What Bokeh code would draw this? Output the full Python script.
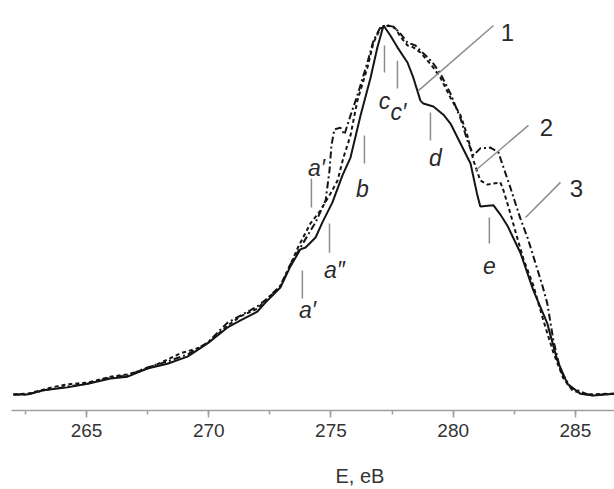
from bokeh.plotting import figure
from bokeh.models import ColumnDataSource, SingleIntervalTicker, Title
from bokeh.core.properties import value
from bokeh.embed import file_html
from bokeh.resources import INLINE

# ---- data (energy in eV, intensity in % of maximum) ----
energy_1 = [262.01, 262.59, 263.24, 264.22, 265.04, 265.98, 266.68, 267.49, 268.31, 269.13,
            269.95, 270.77, 271.30, 271.99, 272.40, 272.93, 273.34, 273.75, 273.96, 274.37,
            274.65, 275.06, 275.47, 275.80, 276.21, 276.62, 276.90, 277.15, 277.43, 277.72,
            278.13, 278.37, 278.66, 278.78, 279.19, 279.60, 279.89, 280.30, 280.71, 280.99,
            281.11, 281.65, 281.93, 282.22, 282.75, 283.28, 283.85, 284.26, 284.67, 285.20,
            285.74, 286.60]
intensity_1 = [0.3, 0.3, 1.4, 2.2, 3.2, 4.6, 5.1, 7.3, 8.6, 10.5,
               14.1, 18.4, 20.3, 22.7, 25.7, 29.2, 34.9, 39.5, 40.0, 42.7,
               46.8, 52.2, 59.5, 64.3, 75.7, 85.9, 94.1, 100.0, 97.3, 94.1,
               90.0, 85.9, 79.7, 78.9, 78.1, 75.9, 73.5, 68.1, 62.7, 54.1,
               51.1, 51.4, 48.9, 45.9, 38.6, 28.4, 19.5, 9.5, 3.2, 0.5,
               0.0, 0.5]

energy_2 = [262.01, 262.59, 263.24, 263.73, 264.22, 265.04, 265.98, 266.68, 267.49, 268.15,
            268.84, 269.66, 269.95, 270.77, 271.30, 271.99, 272.40, 272.93, 273.34, 273.67,
            274.16, 274.57, 274.98, 275.27, 275.51, 275.80, 276.08, 276.49, 276.74, 277.02,
            277.35, 277.64, 277.84, 278.13, 278.37, 278.66, 278.95, 279.19, 279.48, 279.89,
            280.30, 280.58, 280.83, 281.11, 281.40, 281.93, 282.06, 282.34, 282.63, 282.87,
            283.28, 283.69, 284.10, 284.51, 284.88, 285.41, 286.60]
intensity_2 = [0.3, 0.5, 1.6, 2.4, 3.0, 3.5, 5.1, 5.7, 7.3, 9.2,
               11.4, 13.0, 14.1, 18.9, 21.4, 23.5, 26.2, 29.5, 35.4, 40.3,
               46.5, 50.0, 54.6, 58.1, 64.3, 70.3, 79.7, 88.6, 95.4, 99.2,
               100.0, 99.2, 97.0, 94.6, 94.1, 92.7, 90.5, 88.6, 85.9, 80.5,
               75.7, 70.3, 63.5, 58.1, 57.0, 57.6, 55.4, 49.2, 42.4, 37.0,
               29.7, 20.3, 11.6, 4.6, 1.4, 0.3, 0.5]

energy_3 = [262.01, 262.59, 263.24, 264.22, 265.04, 265.98, 266.68, 267.49, 268.31, 269.13,
            269.95, 270.77, 271.30, 271.99, 272.40, 272.93, 273.34, 273.75, 274.37, 274.78,
            274.94, 275.02, 275.14, 275.39, 275.55, 275.80, 276.08, 276.49, 276.74, 277.02,
            277.23, 277.56, 277.84, 278.13, 278.46, 278.66, 278.95, 279.19, 279.48, 279.89,
            280.30, 280.58, 280.83, 281.11, 281.52, 281.85, 282.06, 282.34, 282.75, 283.04,
            283.36, 283.65, 283.85, 284.10, 284.39, 284.80, 285.61, 286.60]
intensity_3 = [0.3, 0.3, 1.4, 2.4, 3.2, 4.9, 5.4, 7.6, 9.2, 11.1,
               14.3, 19.7, 21.6, 24.1, 26.2, 29.7, 35.4, 40.0, 46.8, 52.7,
               60.8, 67.6, 71.9, 72.4, 70.5, 75.7, 81.1, 90.0, 95.9, 99.5,
               100.0, 99.7, 97.8, 95.4, 94.6, 93.2, 91.4, 89.7, 87.0, 81.6,
               74.9, 68.9, 64.9, 66.8, 67.0, 65.7, 61.6, 56.2, 47.8, 42.7,
               35.9, 29.7, 24.9, 14.9, 6.8, 2.2, 0.0, 0.5]

# feature markers: text, energy of marker line, marker line bottom/top, text position
feat_text = ["a\u2032", "a\u2033", "a\u2032", "b", "c", "c\u2032", "d", "e"]
feat_energy = [273.83, 274.94, 274.20, 276.37, 277.19, 277.72, 279.07, 281.48]
feat_low = [26.2, 38.6, 50.8, 62.7, 87.3, 83.0, 68.9, 41.1]
feat_high = [33.8, 46.5, 58.6, 70.3, 94.6, 90.5, 76.5, 48.1]
feat_text_x = [274.04, 275.14, 274.41, 276.29, 277.19, 277.76, 279.27, 281.48]
feat_text_y = [23.0, 33.8, 61.6, 55.9, 79.7, 76.5, 64.1, 35.1]

# curve numbers with leader lines
num_text = ["1", "2", "3"]
num_x = [282.22, 283.81, 285.04]
num_y = [98.1, 72.4, 55.9]
lead_x0 = [281.65, 283.08, 284.39]
lead_y0 = [100.0, 73.0, 57.6]
lead_x1 = [278.58, 280.91, 282.96]
lead_y1 = [82.4, 60.8, 48.1]

x_ticks_interval = 5
x_title = "E, eB"

# ---- figure ----
p = figure(width=614, height=489, x_range=(261.93, 286.60), y_range=(-4.05, 106.76),
           output_backend="svg", toolbar_location=None, y_axis_location=None,
           min_border_left=11, min_border_right=0, min_border_top=0, min_border_bottom=79)
p.grid.visible = False
p.outline_line_color = None
p.background_fill_color = "white"
p.border_fill_color = "white"

ax = p.xaxis[0]
ax.ticker = SingleIntervalTicker(interval=x_ticks_interval, num_minor_ticks=2)
ax.axis_line_color = "#a0a0a0"
ax.axis_line_width = 1.5
ax.major_tick_line_color = "#a0a0a0"
ax.major_tick_line_width = 1.5
ax.minor_tick_line_color = "#a0a0a0"
ax.minor_tick_line_width = 1.5
ax.major_tick_out = 7
ax.major_tick_in = 0
ax.minor_tick_out = 4
ax.minor_tick_in = 0
ax.major_label_text_font = "Liberation Sans"
ax.major_label_text_font_size = "19px"
ax.major_label_text_color = "#333333"
ax.major_label_standoff = 6
# blank spacer label: pushes the offset title below further down
ax.axis_label = "\u00a0"
ax.axis_label_text_font_size = "11px"
ax.axis_label_standoff = 8

curve_color = "#151515"
p.line(energy_1, intensity_1, line_color=curve_color, line_width=2.0)
p.line(energy_2, intensity_2, line_color=curve_color, line_width=2.0, line_dash="4 3")
p.line(energy_3, intensity_3, line_color=curve_color, line_width=2.0, line_dash="7 3 2 3")

gray = "#8c8c8c"
feat_src = ColumnDataSource(dict(x=feat_energy, y0=feat_low, y1=feat_high,
                                 tx=feat_text_x, ty=feat_text_y, t=feat_text))
p.segment(x0="x", y0="y0", x1="x", y1="y1", source=feat_src, line_color=gray, line_width=1.5)
p.text(x="tx", y="ty", text="t", source=feat_src, text_font=value("Liberation Sans"),
       text_font_style="italic", text_font_size="23px", text_color="#2a2a2a",
       text_align="center", text_baseline="alphabetic")

num_src = ColumnDataSource(dict(x=num_x, y=num_y, t=num_text, x0=lead_x0, y0=lead_y0,
                                x1=lead_x1, y1=lead_y1))
p.segment(x0="x0", y0="y0", x1="x1", y1="y1", source=num_src, line_color=gray, line_width=1.5)
p.text(x="x", y="y", text="t", source=num_src, text_font=value("Liberation Sans"),
       text_font_size="24px", text_color="#2a2a2a", text_align="center",
       text_baseline="alphabetic")

p.add_layout(Title(text=x_title, align="left", offset=324, standoff=0,
                   text_font="Liberation Sans", text_font_size="20px",
                   text_font_style="normal", text_color="#333333"), "below")

open("out.html", "w").write(file_html(p, INLINE))
